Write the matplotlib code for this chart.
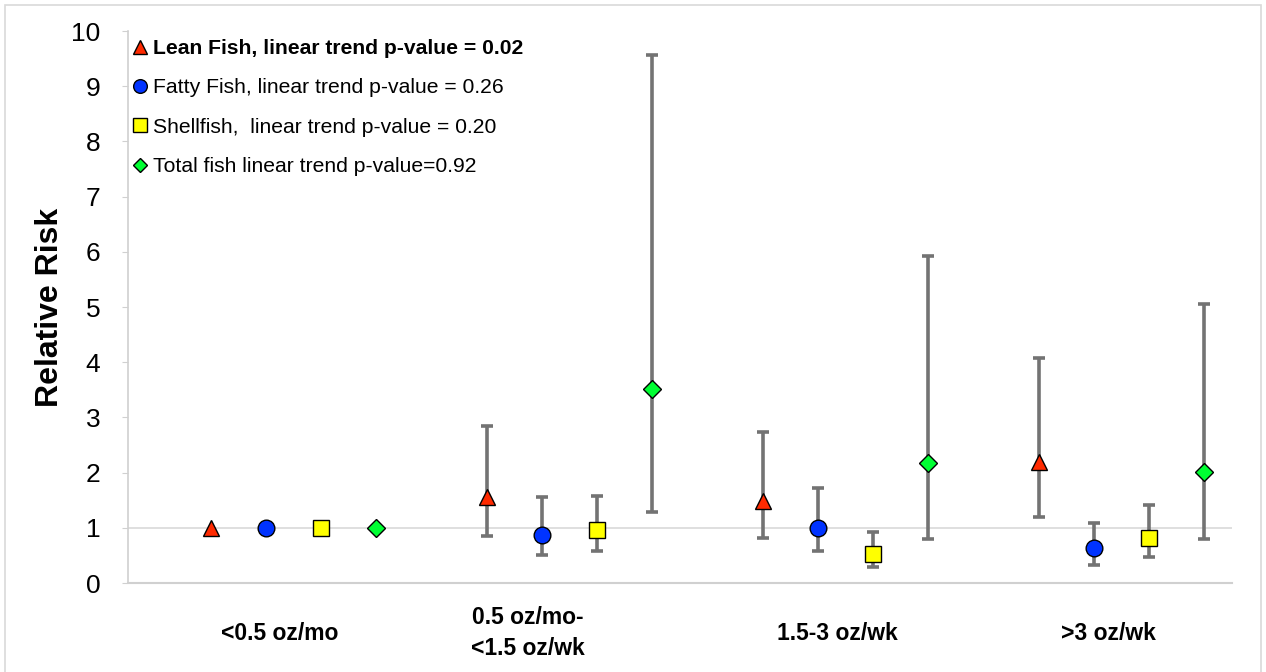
import matplotlib
matplotlib.use("Agg")
import matplotlib.pyplot as plt
from matplotlib.lines import Line2D
from matplotlib.patches import Rectangle
import numpy as np

plt.rcParams['font.family'] = ['Liberation Sans', 'DejaVu Sans']

# intake categories
categories = ['<0.5 oz/mo', '0.5 oz/mo-\n<1.5 oz/wk', '1.5-3 oz/wk', '>3 oz/wk']

# relative risk with 95% CI for each fish type (first category = reference)
lean_rr = [1.00, 1.55, 1.48, 2.20]
lean_lo = [1.00, 0.86, 0.82, 1.20]
lean_hi = [1.00, 2.84, 2.73, 4.08]

fatty_rr = [1.00, 0.87, 1.00, 0.64]
fatty_lo = [1.00, 0.51, 0.58, 0.33]
fatty_hi = [1.00, 1.55, 1.73, 1.08]

shell_rr = [1.00, 0.96, 0.52, 0.82]
shell_lo = [1.00, 0.58, 0.29, 0.48]
shell_hi = [1.00, 1.58, 0.93, 1.42]

total_rr = [1.00, 3.51, 2.18, 2.01]
total_lo = [1.00, 1.28, 0.80, 0.79]
total_hi = [1.00, 9.56, 5.92, 5.05]

legend_labels = ['Lean Fish, linear trend p-value = 0.02',
                 'Fatty Fish, linear trend p-value = 0.26',
                 'Shellfish,  linear trend p-value = 0.20',
                 'Total fish linear trend p-value=0.92']

series = [
    (lean_rr, lean_lo, lean_hi, '^', '#FF2A00', 12),
    (fatty_rr, fatty_lo, fatty_hi, 'o', '#0033FF', 12),
    (shell_rr, shell_lo, shell_hi, 's', '#FFFF00', 11.5),
    (total_rr, total_lo, total_hi, 'D', '#00FF33', 9),
]

fig = plt.figure(figsize=(12.66, 6.72), dpi=100)
ax = fig.add_axes([0.1011, 0.1324, 0.8720, 0.8214])

# light frame around the whole chart
fig.patches.append(Rectangle((0.004, -0.01), 0.992, 1.003, transform=fig.transFigure,
                             fill=False, edgecolor='#D9D9D9', linewidth=1.2))

grp = np.arange(len(categories))
for k, (rr, lo, hi, mk, col, ms) in enumerate(series):
    x = grp * 5 + k
    rr = np.array(rr)
    lo = np.array(lo)
    hi = np.array(hi)
    # no interval for the reference category
    ax.errorbar(x[1:], rr[1:], yerr=[rr[1:] - lo[1:], hi[1:] - rr[1:]], fmt='none',
                ecolor='#737373', elinewidth=2.6, capsize=4.5, capthick=2.6, zorder=2)
    ax.plot(x, rr, linestyle='none', marker=mk, markersize=ms, markerfacecolor=col,
            markeredgecolor='black', markeredgewidth=1.0, zorder=3)

# reference line at RR = 1
ax.axhline(1, color='#D9D9D9', linewidth=1.2, zorder=1)

ax.set_xlim(-1.5, 18.5)
ax.set_ylim(0, 10)
ax.set_yticks(range(0, 11))
ax.tick_params(axis='y', labelsize=19, length=4, color='#D0D0D0', pad=16)
ax.set_xticks([1.25, 5.74, 11.36, 16.27])
ax.set_xticklabels(categories, fontsize=16.5, fontweight='bold', linespacing=1.4)
ax.tick_params(axis='x', length=0, pad=36)
for lab in ax.get_xticklabels():
    lab.set_verticalalignment('center')
ax.set_ylabel('Relative Risk', fontsize=23, fontweight='bold', labelpad=4)

for side in ['top', 'right']:
    ax.spines[side].set_visible(False)
ax.spines['left'].set_color('#D0D0D0')
ax.spines['bottom'].set_color('#D0D0D0')
ax.spines['left'].set_linewidth(1.2)
ax.spines['bottom'].set_linewidth(1.5)

# legend with proxy markers
handles = [Line2D([], [], linestyle='none', marker=mk, markersize=ms * 0.82,
                  markerfacecolor=col, markeredgecolor='black', markeredgewidth=1.0)
           for (_, _, _, mk, col, ms) in series]
leg = ax.legend(handles, legend_labels, loc='upper left', bbox_to_anchor=(-0.011, 1.016),
                frameon=False, fontsize=15.2, handlelength=0.7, handletextpad=0.25,
                labelspacing=0.96, borderaxespad=0.4)
leg.get_texts()[0].set_fontweight('bold')

fig.savefig('out.png', dpi=100)
